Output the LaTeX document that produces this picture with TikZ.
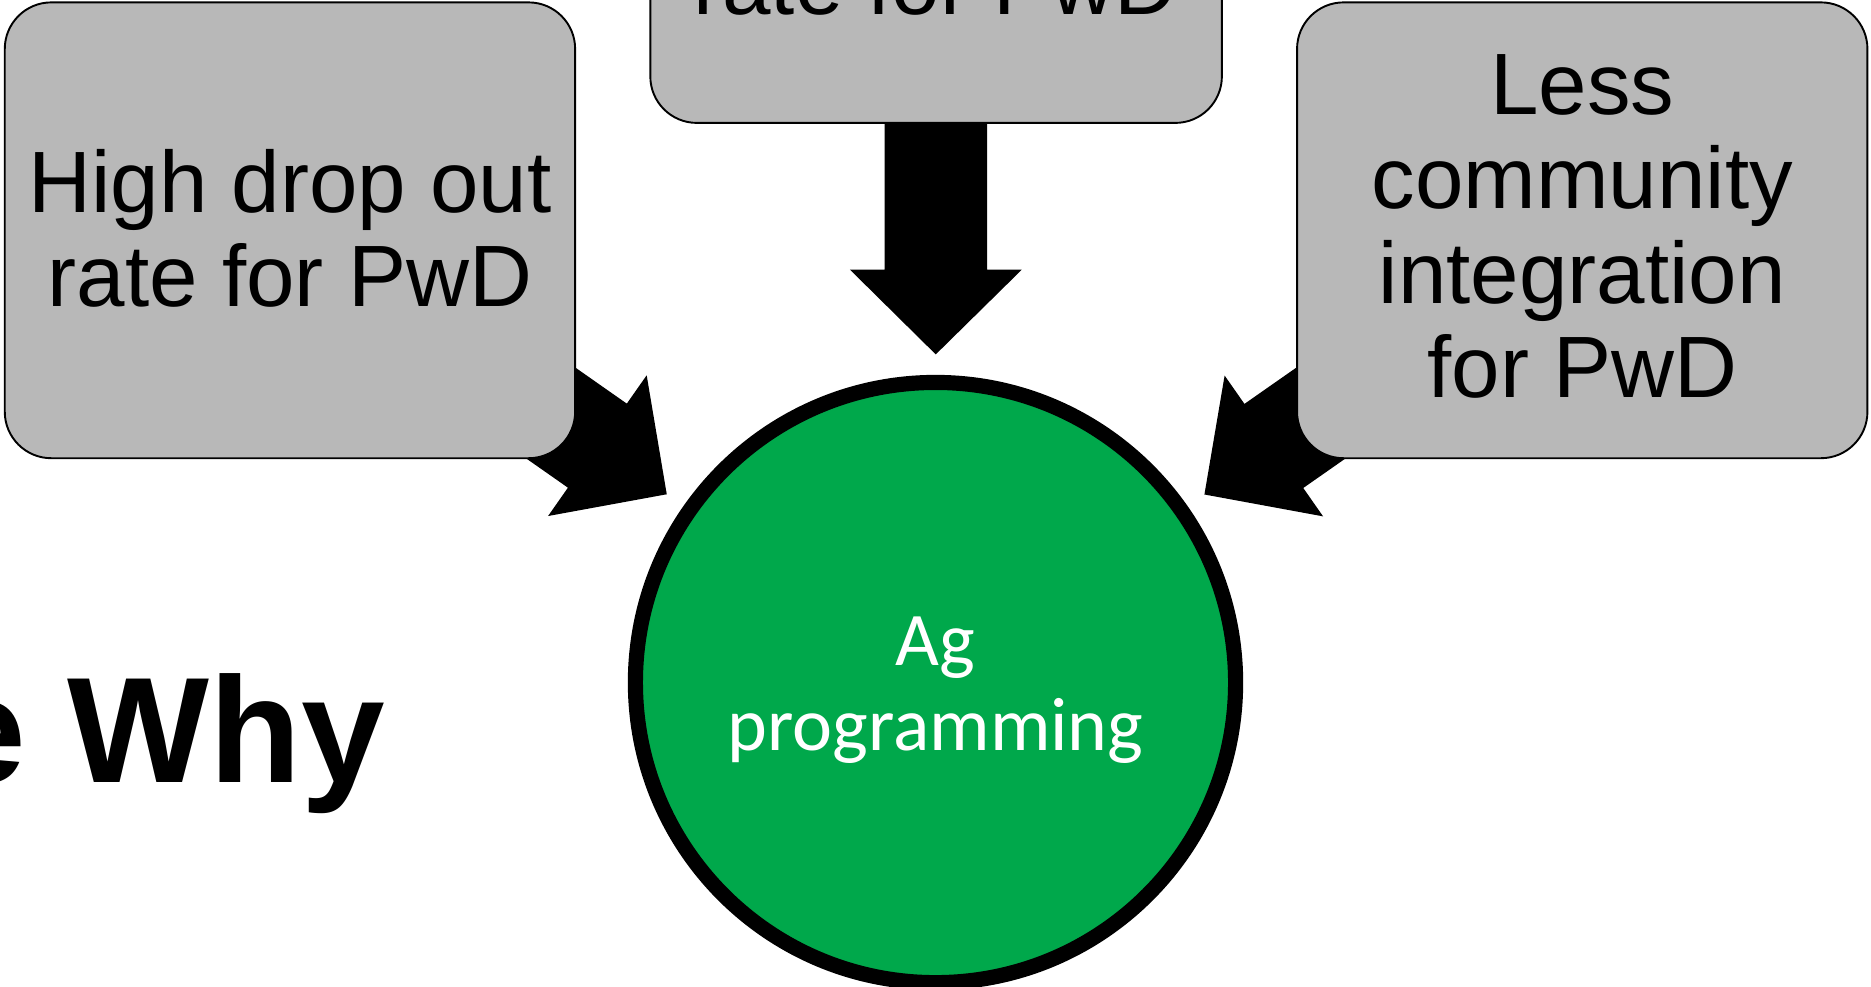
\documentclass[tikz,border=0pt]{standalone}
\usepackage{fontspec}
\setmainfont{Liberation Sans}
\newfontfamily\agfont{Carlito}
\usetikzlibrary{calc}
\definecolor{boxgray}{RGB}{184,184,184}
\definecolor{aggreen}{RGB}{0,168,75}
\pgfdeclarelayer{background}
\pgfsetlayers{background,main}
\newcommand{\fatarrow}[2]{%
  \coordinate (#2tip) at ($(circ.center)!275pt!(#1.center)$);
  \coordinate (#2base) at ($(#2tip)!71pt!(#1.center)$);
  \fill[arrowfill] ($(#1.center)!43pt!90:(#2tip)$) -- ($(#2base)!43pt!-90:(#1.center)$)
    -- ($(#2base)!72pt!-90:(#1.center)$) -- (#2tip) -- ($(#2base)!72pt!90:(#1.center)$)
    -- ($(#2base)!43pt!90:(#1.center)$) -- ($(#1.center)!43pt!-90:(#2tip)$) -- cycle;}
\begin{document}
\begin{tikzpicture}[x=1pt,y=-1pt,
  causebox/.style={draw=black, line width=1.6pt, fill=boxgray, rounded corners=39pt,
    inner sep=0pt, align=center, font=\fontsize{73}{79}\selectfont},
  boxtext/.style={inner sep=0pt, font=\fontsize{73}{79}\selectfont},
  arrowfill/.style={fill=black},
  hub/.style={circle, draw=black, line width=12.7pt, fill=aggreen, minimum size=503pt, inner sep=0pt},
  hubtext/.style={text=white, align=center, inner sep=0pt, font=\agfont\fontsize{63.5}{71}\selectfont},
  titletext/.style={inner sep=0pt, font=\bfseries\fontsize{126}{130}\selectfont}]
\useasboundingbox (0,0) rectangle (1568,827);
\clip (0,0) rectangle (1568,827);
\begin{pgfonlayer}{background}
\fill[white] (0,0) rectangle (1568,827);
\end{pgfonlayer}

% cause boxes
\node[causebox, minimum width=478pt, minimum height=382pt] (boxL) at (243,193)
  {High drop out\\rate for PwD\rule[-4pt]{0pt}{4pt}};
\node[causebox, minimum width=479pt, minimum height=403pt] (boxC) at (784.5,-98.5) {};
\node[boxtext, anchor=base] (txtC) at (784,12) {rate for PwD};
\node[causebox, minimum width=478pt, minimum height=382pt] (boxR) at (1326,193)
  {Less\\community\\integration\\for PwD\rule[-7pt]{0pt}{7pt}};

% hub
\node[hub] (circ) at (784,572) {};
\node[hubtext] (agtxt) at (784,578.5) {Ag\\programming};

% title fragment
\node[titletext, anchor=base east] (why) at (323,656) {The Why};

% block arrows behind boxes
\begin{pgfonlayer}{background}
\fatarrow{boxL}{aL}
\fatarrow{boxC}{aC}
\fatarrow{boxR}{aR}
\end{pgfonlayer}
\end{tikzpicture}
\end{document}
